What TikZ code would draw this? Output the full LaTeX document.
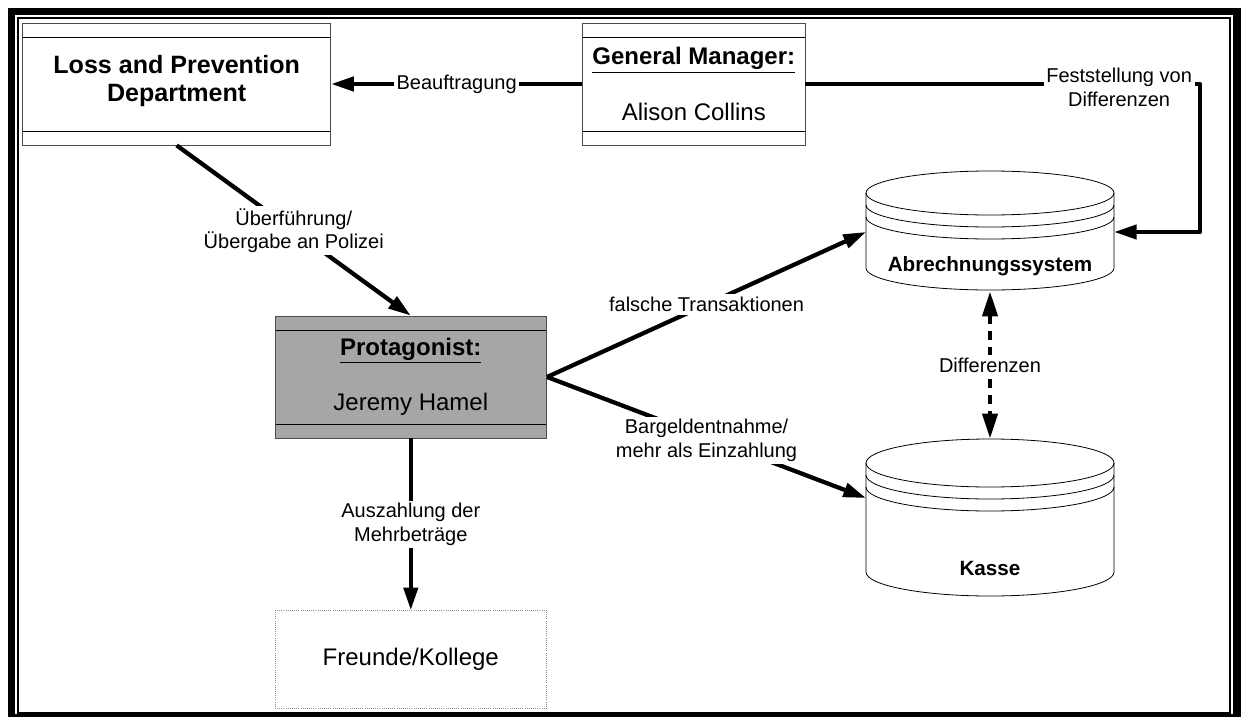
\documentclass[tikz,border=0pt]{standalone}
\usepackage{fontspec}
\setmainfont{Liberation Sans}
\usetikzlibrary{arrows.meta}

\definecolor{protfill}{RGB}{166,166,166}

\tikzset{
  box/.style={draw=black!70, line width=0.6pt, inner sep=0pt, align=center,
    font=\fontsize{18}{20.5}\selectfont},
  bands/.style={path picture={
    \draw[black, line width=0.6pt]
      ([yshift=-11pt]path picture bounding box.north west) -- ([yshift=-11pt]path picture bounding box.north east)
      ([yshift=10pt]path picture bounding box.south west) -- ([yshift=10pt]path picture bounding box.south east);}},
  drum/.style={draw=black, line width=0.6pt},
  drumtxt/.style={inner sep=0pt, font=\fontsize{15.5}{18}\selectfont\bfseries},
  flow/.style={line width=3.2pt, line join=round, -{Triangle[length=17pt,width=10.5pt]}},
  diff/.style={line width=3.6pt, dash pattern=on 7pt off 5pt,
    {Triangle[length=19pt,width=11pt]}-{Triangle[length=19pt,width=11pt]}},
  lbl/.style={fill=white, inner sep=2pt, align=center, font=\fontsize{15}{17.5}\selectfont},
}

\begin{document}
\begin{tikzpicture}[x=0.75pt, y=-0.75pt]
\useasboundingbox (0,0) rectangle (1241,717);

%frame: heavy outer band, thin inner line
\fill[black] (8,8) rectangle (1241,717);
\fill[white] (15,15) rectangle (1232.5,714.3);
\draw[line width=1.5pt] (18,18) rectangle (1229.5,712.5);

%boxes
\node[box, bands, font=\fontsize{18.8}{20.5}\selectfont\bfseries,
  minimum width=231pt, minimum height=91.5pt] (lpd) at (176.7,84)
  {Loss and Prevention\\Department\\[-12pt]\mbox{}};
\node[box, bands, minimum width=166.7pt, minimum height=91.5pt] (gm) at (693.8,84)
  {\underline{\textbf{General Manager:}}\\[21pt]Alison Collins};
\node[box, bands, fill=protfill, minimum width=203.8pt, minimum height=91.5pt] (prot) at (410.8,377)
  {\underline{\textbf{Protagonist:}}\\[21pt]Jeremy Hamel};
\node[box, draw=black!45, densely dotted, minimum width=203.8pt, minimum height=73pt] (fk) at (410.8,659.3)
  {Freunde/Kollege};

%drum: Abrechnungssystem
\draw[drum, fill=white] (866,193) -- (866,268) arc[start angle=180, end angle=360, x radius=93pt, y radius=16.5pt] -- (1114,193);
\draw[drum] (990,193) ellipse [x radius=93pt, y radius=16.5pt];
\foreach \dy in {12,24}
  \draw[drum] (866,{193+\dy}) arc[start angle=180, end angle=360, x radius=93pt, y radius=16.5pt];
\node[drumtxt] (abr) at (990,266) {Abrechnungssystem};
\coordinate (abr-w) at (866,232);
\coordinate (abr-e) at (1114,232);
\coordinate (abr-s) at (990,291);

%drum: Kasse
\draw[drum, fill=white] (866,463) -- (866,572) arc[start angle=180, end angle=360, x radius=93pt, y radius=18pt] -- (1114,463);
\draw[drum] (990,463) ellipse [x radius=93pt, y radius=18pt];
\foreach \dy in {12,24}
  \draw[drum] (866,{463+\dy}) arc[start angle=180, end angle=360, x radius=93pt, y radius=18pt];
\node[drumtxt] (kas) at (990,568) {Kasse};
\coordinate (kas-w) at (866,498);
\coordinate (kas-n) at (990,439);

%corner of the feedback line
\coordinate (fb) at (1200,84);

%connectors
\draw[flow] (gm.west) -- node[lbl] {Beauftragung} (lpd.east);
\draw[flow] (gm.east) -- node[lbl, pos=0.795, yshift=-2.5pt] {Feststellung von\\Differenzen} (fb) |- (abr-e);
\draw[flow] (lpd.south) -- node[lbl] {Überführung/\\Übergabe an Polizei} (prot.north);
\draw[flow] (prot.east) -- node[lbl] {falsche Transaktionen} (abr-w);
\draw[flow] (prot.east) -- node[lbl, yshift=-2pt] {Bargeldentnahme/\\mehr als Einzahlung} (kas-w);
\draw[flow] (prot.south) -- node[lbl] {Auszahlung der\\Mehrbeträge} (fk.north);
\draw[diff] (abr-s) -- node[lbl] {Differenzen} (kas-n);

\end{tikzpicture}
\end{document}
